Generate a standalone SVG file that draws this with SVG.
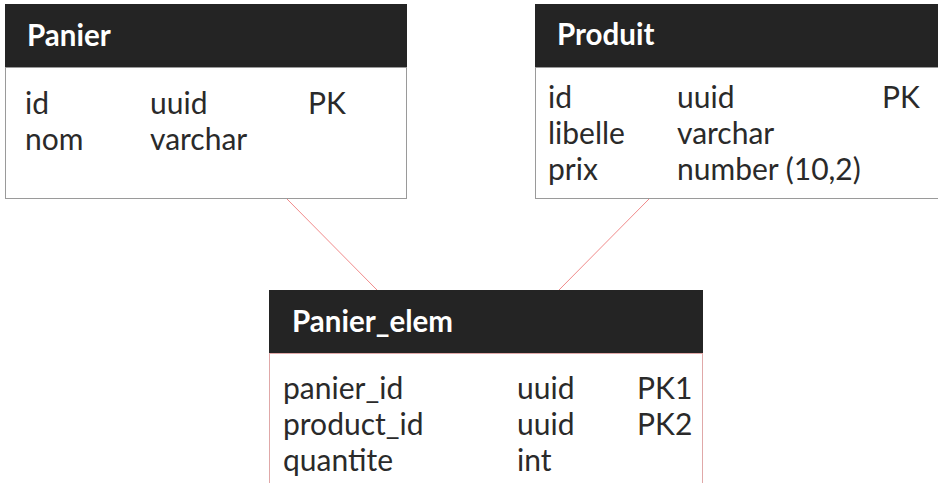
<svg xmlns="http://www.w3.org/2000/svg" width="938" height="483" viewBox="0 0 938 483">
<style>
.hdr{fill:#242424}
.body{fill:#ffffff;stroke:#9a9a9a;stroke-width:1}
.bodyr{fill:#ffffff;stroke:#e0a8a8;stroke-width:1}
.title{font-family:Lato,"Liberation Sans",sans-serif;font-weight:bold;font-size:29.5px;fill:#ffffff}
.t{font-family:Lato,"Liberation Sans",sans-serif;font-size:30px;fill:#2a2a2a}
.conn{stroke:#f08a8a;stroke-width:1;fill:none}
</style>
<rect width="938" height="483" fill="#ffffff"/>
<g id="connectors">
<line class="conn" x1="287" y1="199" x2="377" y2="290"/>
<line class="conn" x1="649" y1="199" x2="559" y2="290"/>
</g>
<g id="panier">
<rect class="body" x="5.5" y="67.5" width="401" height="131"/>
<rect class="hdr" x="5" y="4" width="402" height="63"/>
<text class="title" x="27" y="46">Panier</text>
<text class="t" x="25" y="114">id</text>
<text class="t" x="150" y="114">uuid</text>
<text class="t" x="308" y="114">PK</text>
<text class="t" x="25" y="150">nom</text>
<text class="t" x="150" y="150">varchar</text>
</g>
<g id="produit">
<rect class="body" x="535.5" y="67.5" width="403" height="131"/>
<rect class="hdr" x="535" y="4" width="403" height="63"/>
<text class="title" x="557" y="45">Produit</text>
<text class="t" x="548" y="108">id</text>
<text class="t" x="677" y="108">uuid</text>
<text class="t" x="882" y="108">PK</text>
<text class="t" x="548" y="144">libelle</text>
<text class="t" x="677" y="144">varchar</text>
<text class="t" x="548" y="180">prix</text>
<text class="t" x="677" y="180">number (10,2)</text>
</g>
<g id="panier_elem">
<rect class="bodyr" x="269.5" y="353.5" width="433" height="140"/>
<rect class="hdr" x="269" y="290" width="434" height="63"/>
<text class="title" x="292" y="332">Panier_elem</text>
<text class="t" x="283" y="399">panier_id</text>
<text class="t" x="517" y="399">uuid</text>
<text class="t" x="637" y="399">PK1</text>
<text class="t" x="283" y="435">product_id</text>
<text class="t" x="517" y="435">uuid</text>
<text class="t" x="637" y="435">PK2</text>
<text class="t" x="283" y="471">quantite</text>
<text class="t" x="517" y="471">int</text>
</g>
</svg>
